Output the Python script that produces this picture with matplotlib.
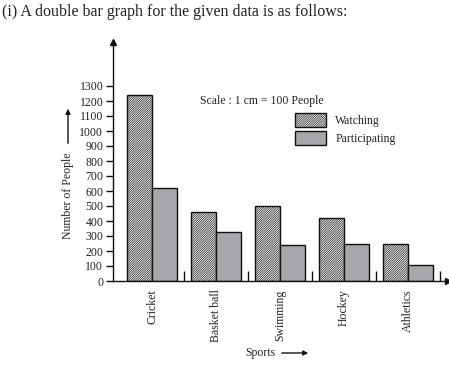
import matplotlib
matplotlib.use("Agg")
import matplotlib.pyplot as plt
import numpy as np

sports = ["Cricket", "Basket ball", "Swimming", "Hockey", "Athletics"]
watching = [1240, 460, 500, 420, 245]
participating = [620, 325, 240, 245, 105]
yticks = list(range(0, 1400, 100))

W, H = 449, 365
plt.rcParams['font.family'] = ['Liberation Serif', 'DejaVu Serif']
plt.rcParams['hatch.linewidth'] = 0.45
plt.rcParams['hatch.color'] = '#3a3a3a'
fig = plt.figure(figsize=(W / 100, H / 100), dpi=100)

def fx(px):
    return px / W

def fy(py):
    return 1 - py / H

x0, x1 = 113, 448
y0, y1 = 281, 42
ax = fig.add_axes([fx(x0), fy(y0), fx(x1) - fx(x0), fy(y1) - fy(y0)])

def ax_fx(px):
    return (px - x0) / (x1 - x0)

def ax_fy(py):
    return (y0 - py) / (y0 - y1)

spacing = 63.9
xmin = (x0 - 152) / spacing
xmax = (x1 - 152) / spacing
ymax = (y0 - y1) / 0.15
ax.set_xlim(xmin, xmax)
ax.set_ylim(0, ymax)

x = np.arange(len(sports))
bw = 25 / spacing
gray = "#a7a7ab"
ax.bar(x - bw / 2, watching, bw, color="#f4f4f4", edgecolor="#111111", hatch="/" * 15, linewidth=1.0, label="Watching")
ax.bar(x + bw / 2, participating, bw, color=gray, edgecolor="#111111", linewidth=1.0, label="Participating")

for s in ["top", "right"]:
    ax.spines[s].set_visible(False)
for s in ["left", "bottom"]:
    ax.spines[s].set_linewidth(1.0)
    ax.spines[s].set_color("#111111")

ax.plot(0, 1, marker="^", color="#111111", markersize=5, transform=ax.transAxes, clip_on=False)
ax.plot(1, 0, marker=">", color="#111111", markersize=5, transform=ax.transAxes, clip_on=False)

ax.set_yticks(yticks)
ax.set_yticklabels([str(v) for v in yticks], fontsize=8.5, color="#222222")
ax.tick_params(axis="y", direction="out", length=5, width=1, pad=2, colors="#111111", labelcolor="#222222")

ax.set_xticks(x + 0.5)
ax.set_xticklabels([])
ax.tick_params(axis="x", which="major", direction="in", length=7, width=1, colors="#111111")
ax.set_xticks(x, minor=True)
ax.set_xticklabels(sports, minor=True, rotation=90, fontsize=8.5, color="#222222")
ax.tick_params(axis="x", which="minor", length=0, pad=6)

fig.text(fx(2), fy(12), "(i) A double bar graph for the given data is as follows:", fontsize=11.5,
         va="center", ha="left", color="#222222")

fig.text(fx(200), fy(101), "Scale : 1 cm = 100 People", fontsize=8.5, va="center", ha="left", color="#222222")

leg = ax.legend(loc="upper left", bbox_to_anchor=(ax_fx(295), ax_fy(113)),
                bbox_transform=ax.transAxes, frameon=False, fontsize=8.5, handlelength=2.6, handleheight=1.5,
                handletextpad=0.8, labelspacing=0.3, borderpad=0, borderaxespad=0)
for t in leg.get_texts():
    t.set_color("#222222")

fig.text(fx(68), fy(196), "Number of People", rotation=90, fontsize=8.5, va="center", ha="center", color="#222222")
fig.add_artist(matplotlib.patches.FancyArrowPatch((fx(68), fy(146)), (fx(68), fy(106)), transform=fig.transFigure,
               arrowstyle="-|>", mutation_scale=7, color="#111111", linewidth=1))

fig.text(fx(245), fy(353), "Sports", fontsize=8.5, va="center", ha="left", color="#222222")
fig.add_artist(matplotlib.patches.FancyArrowPatch((fx(279), fy(353)), (fx(311), fy(353)), transform=fig.transFigure,
               arrowstyle="-|>", mutation_scale=7, color="#111111", linewidth=1))

fig.savefig("out.png", dpi=100)
